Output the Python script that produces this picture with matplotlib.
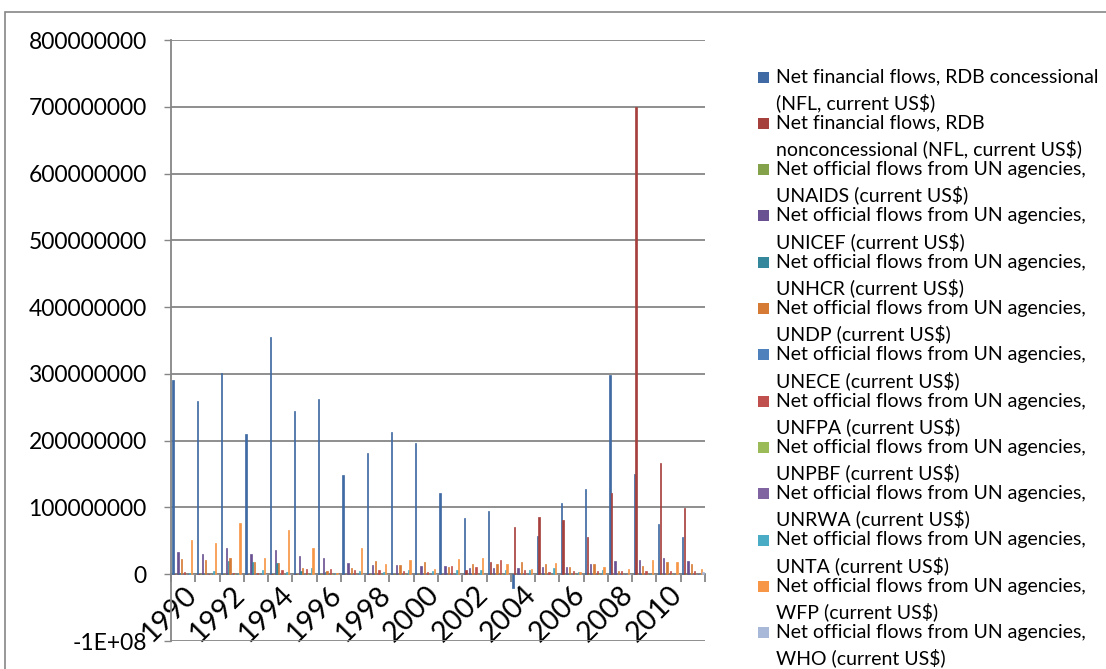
import matplotlib
matplotlib.use("Agg")
import matplotlib.pyplot as plt
import numpy as np
from matplotlib.patches import Rectangle
from matplotlib.ticker import FixedLocator, FixedFormatter

years = list(range(1990, 2012))

# values in millions of current US$
rdb_concessional = [291, 259, 302, 210, 355, 245, 262, 148, 181, 213, 196,
                    122, 84, 95, -20, 57, 106, 127, 299, 150, 75, 55]
rdb_nonconcessional = [0, 0, 0, 0, 0, 0, 0, 0, 0, 0, 0,
                       0, 6, 19, 71, 85, 81, 55, 121, 700, 166, 99]
unaids = [0, 0, 0, 0, 0, 0, 0.3, 0.3, 0.3, 0.3, 0.3,
          0.3, 0.3, 0.3, 0.3, 0.3, 0.3, 0.3, 0.3, 0.3, 0.3, 0.3]
unicef = [33, 31, 40, 31, 37, 27, 24, 17, 14, 14, 12,
          12, 10, 10, 10, 11, 11, 15, 20, 21, 24, 20]
unhcr = [2, 1, 20, 18, 17, 5, 3, 1, 1, 1, 1,
         1, 1, 1, 1, 1, 1, 1, 1, 1, 1, 1]
undp = [23, 21, 24, 18, 17, 10, 5, 9, 20, 14, 18,
        11, 15, 15, 19, 15, 11, 15, 5, 12, 19, 16]
unece = [0] * 22
unfpa = [4, 1, 2, 2, 6, 8, 8, 6, 6, 5, 3,
         13, 11, 22, 6, 4, 5, 5, 5, 5, 5, 5]
unpbf = [0] * 22
unrwa = [0] * 22
unta = [2, 5, 2, 6, 3, 10, 2, 5, 3, 6, 5,
        6, 6, 7, 7, 9, 3, 7, 1, 1, 1, 1]
wfp = [51, 47, 76, 25, 66, 40, 2, 39, 15, 22, 8,
       23, 25, 16, 8, 17, 3, 11, 8, 21, 19, 8]
who = [1, 1, 1, 1, 1, 1, 1, 1, 1, 1, 1,
       1, 1, 1, 1, 1, 1, 1, 1, 1, 1, 3]

series_values = [rdb_concessional, rdb_nonconcessional, unaids, unicef, unhcr,
                 undp, unece, unfpa, unpbf, unrwa, unta, wfp, who]

series_labels = [
    ("Net financial flows, RDB concessional", "(NFL, current US$)"),
    ("Net financial flows, RDB", "nonconcessional (NFL, current US$)"),
    ("Net official flows from UN agencies,", "UNAIDS (current US$)"),
    ("Net official flows from UN agencies,", "UNICEF (current US$)"),
    ("Net official flows from UN agencies,", "UNHCR (current US$)"),
    ("Net official flows from UN agencies,", "UNDP (current US$)"),
    ("Net official flows from UN agencies,", "UNECE (current US$)"),
    ("Net official flows from UN agencies,", "UNFPA (current US$)"),
    ("Net official flows from UN agencies,", "UNPBF (current US$)"),
    ("Net official flows from UN agencies,", "UNRWA (current US$)"),
    ("Net official flows from UN agencies,", "UNTA (current US$)"),
    ("Net official flows from UN agencies,", "WFP (current US$)"),
    ("Net official flows from UN agencies,", "WHO (current US$)"),
]

colors = ["#3F6AA3", "#A6403D", "#83A24A", "#6A5192", "#35879C", "#D67B35",
          "#4F81BD", "#C0504D", "#9BBB59", "#8064A2", "#4BACC6", "#F79646",
          "#A8B8D8"]

ytick_values = [-1e8, 0, 1e8, 2e8, 3e8, 4e8, 5e8, 6e8, 7e8, 8e8]
ytick_labels = ["-1E+08", "0", "100000000", "200000000", "300000000",
                "400000000", "500000000", "600000000", "700000000", "800000000"]
xtick_years = list(range(1990, 2011, 2))

GRID = "#868686"
plt.rcParams["font.family"] = ["Lato", "DejaVu Sans"]

W, H = 1106, 669
fig = plt.figure(figsize=(W / 100, H / 100), dpi=100, facecolor="white")

# plot area in pixels: x 171..705, y 40 (800M) .. 641 (-1E+08)
ax = fig.add_axes([171 / W, 1 - 641 / H, (705 - 171) / W, (641 - 40) / H])
ax.set_facecolor("white")

n = len(series_values)
bar_w = 1 / (n + 1.5)
x = np.arange(len(years))
for i, (vals, col) in enumerate(zip(series_values, colors)):
    offs = -0.5 + 0.75 * bar_w + (i + 0.5) * bar_w
    ax.bar(x + offs, np.array(vals) * 1e6, width=bar_w * 0.8, color=col,
           edgecolor=col, linewidth=0.5, zorder=3)

ax.set_xlim(-0.5, len(years) - 0.5)
ax.set_ylim(-1e8, 8e8)

ax.yaxis.set_major_locator(FixedLocator(ytick_values))
ax.yaxis.set_major_formatter(FixedFormatter(ytick_labels))
ax.grid(axis="y", color=GRID, linewidth=1.3, zorder=0)
ax.tick_params(axis="y", direction="out", length=5, width=1, color=GRID,
               labelsize=16.5, pad=12.5, labelcolor="black")

for side in ("top", "right"):
    ax.spines[side].set_visible(False)
ax.spines["left"].set_color(GRID)
ax.spines["left"].set_linewidth(1.3)
ax.spines["bottom"].set_position(("data", 0))
ax.spines["bottom"].set_color(GRID)
ax.spines["bottom"].set_linewidth(1.3)

ax.xaxis.set_minor_locator(FixedLocator(np.arange(len(years) + 1) - 0.5))
ax.xaxis.set_major_locator(FixedLocator([years.index(yy) for yy in xtick_years]))
ax.set_xticklabels([str(yy) for yy in xtick_years])
ax.tick_params(axis="x", which="minor", direction="out", length=6, width=1.3,
               color=GRID)
ax.tick_params(axis="x", which="major", length=0, pad=5, labelsize=20.5)
for lab in ax.get_xticklabels():
    lab.set_rotation(45)
    lab.set_ha("right")
    lab.set_va("top")
    lab.set_rotation_mode("anchor")

# legend drawn at fixed pixel rows, swatch next to the first line of each entry
for k, ((l1, l2), col) in enumerate(zip(series_labels, colors)):
    y1 = 77 + 46.3 * k
    fig.patches.append(Rectangle((758 / W, 1 - (y1 + 5.5) / H), 11 / W, 11 / H,
                                 transform=fig.transFigure, facecolor=col,
                                 edgecolor="none"))
    fig.text(776 / W, 1 - y1 / H, l1, fontsize=14, va="center", ha="left")
    fig.text(776 / W, 1 - (y1 + 25.5) / H, l2, fontsize=14, va="center", ha="left")

# chart-area border
fig.patches.append(Rectangle((5 / W, -0.05), 1.1, 1.05 - 12 / H,
                             transform=fig.transFigure, facecolor="none",
                             edgecolor=GRID, linewidth=1.2))

fig.savefig("out.png", dpi=100, facecolor="white")
